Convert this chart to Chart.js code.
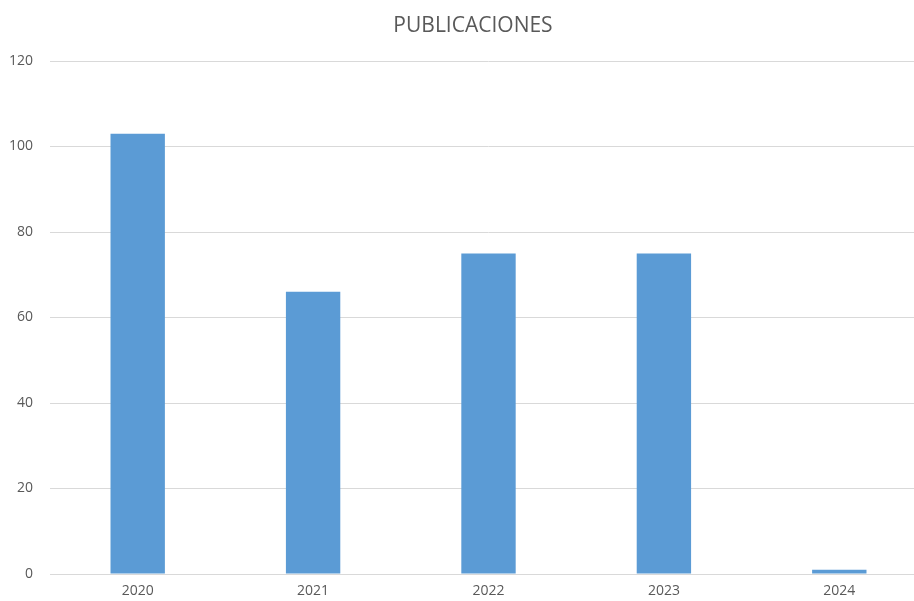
<!DOCTYPE html>
<html>
<head>
<meta charset="utf-8">
<script src="https://cdn.jsdelivr.net/npm/chart.js@4"></script>
<style>
html,body{margin:0;padding:0;background:#fff;overflow:hidden;width:914px;height:601px;}
#wrap{position:absolute;left:0;top:0;width:947px;height:601px;}
</style>
</head>
<body>
<div id="wrap"><canvas id="c" width="947" height="601"></canvas></div>
<script>
const categories = ["2020", "2021", "2022", "2023", "2024"];
const publicaciones = [103, 66, 75, 75, 1];
const yTicks = [0, 20, 40, 60, 80, 100, 120];

const gray = '#595959';
const titleShift = {
  id: 'titleShift',
  afterLayout(chart) {
    const t = chart.titleBlock;
    if (t) { t.left = 19; }
  }
};
new Chart(document.getElementById('c'), {
  type: 'bar',
  data: {
    labels: categories,
    datasets: [{
      label: 'PUBLICACIONES',
      data: publicaciones,
      backgroundColor: '#5B9BD5',
      borderWidth: 0,
      barPercentage: 0.31,
      categoryPercentage: 1
    }]
  },
  options: {
    responsive: false,
    animation: false,
    layout: { padding: { left: 0, right: 20, top: 0, bottom: 0 } },
    plugins: {
      legend: { display: false },
      tooltip: { enabled: false },
      title: {
        display: true,
        text: 'PUBLICACIONES',
        color: gray,
        font: { family: 'Open Sans', size: 21, weight: 'normal' },
        padding: { top: 13, bottom: 22.8 }
      }
    },
    scales: {
      x: {
        grid: { display: false, drawTicks: false },
        border: { display: true, color: '#D9D9D9', width: 1 },
        ticks: { color: gray, font: { family: 'Open Sans', size: 14 }, padding: 9 },
        afterFit: s => { s.height = 27; }
      },
      y: {
        min: 0, max: 120,
        afterBuildTicks: s => { s.ticks = yTicks.map(v => ({ value: v })); },
        grid: { color: '#D9D9D9', drawTicks: false },
        border: { display: false },
        ticks: { color: gray, font: { family: 'Open Sans', size: 14 }, padding: 17 },
        afterFit: s => { s.width = 50; }
      }
    }
  },
  plugins: [titleShift]
});
</script>
</body>
</html>
